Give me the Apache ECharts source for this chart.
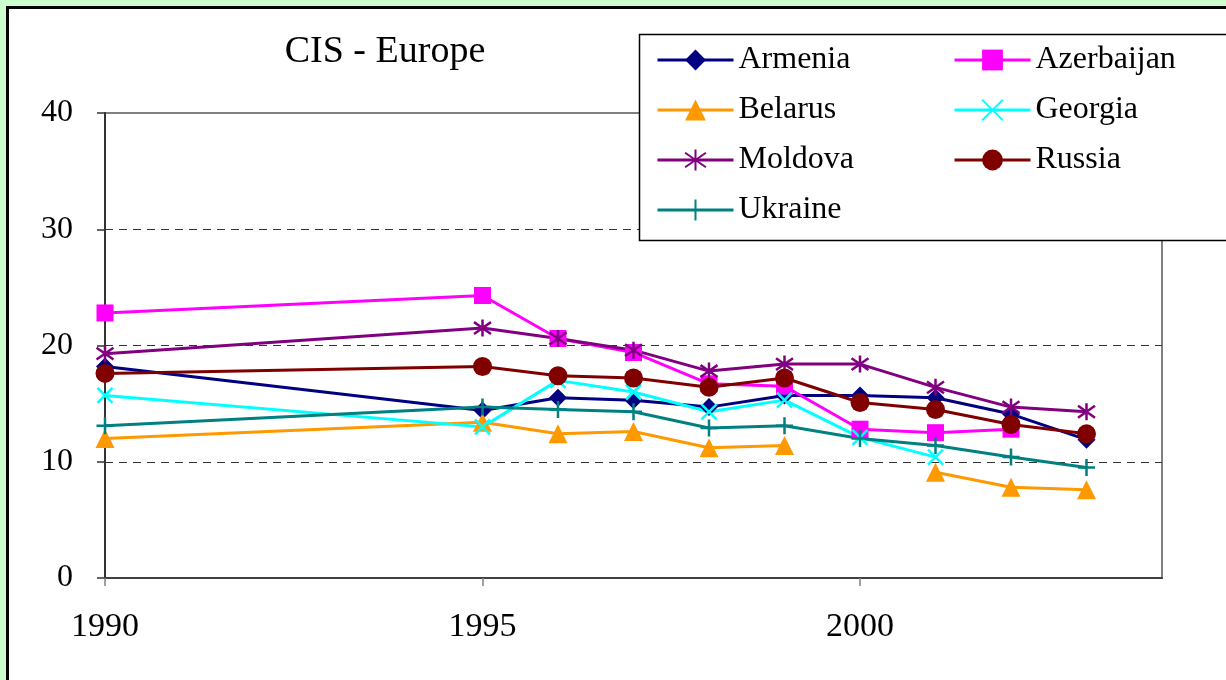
<!DOCTYPE html>
<html>
<head>
<meta charset="utf-8">
<script src="https://cdn.jsdelivr.net/npm/echarts@6/dist/echarts.min.js"></script>
<style>
  html, body { margin: 0; padding: 0; background: #ccffcc; }
  #chart { width: 1226px; height: 680px; }
</style>
</head>
<body>
<div id="chart"></div>
<script>
// Years observed on the horizontal axis
var years = [1990, 1995, 1996, 1997, 1998, 1999, 2000, 2001, 2002, 2003];
var xTicks = [1990, 1995, 2000];
var yTicks = [0, 10, 20, 30, 40];

// Values per country (null = no observation)
var armenia    = [18.2, 14.4, 15.5, 15.3, 14.7, 15.7, 15.7, 15.5, 14.1, 11.9];
var azerbaijan = [22.8, 24.3, 20.6, 19.4, 16.7, 16.5, 12.8, 12.5, 12.8, null];
var belarus    = [12.0, 13.4, 12.4, 12.6, 11.2, 11.4, null, 9.1, 7.8, 7.6];
var georgia    = [15.7, 13.0, 17.0, 16.0, 14.3, 15.3, 12.1, 10.4, null, null];
var moldova    = [19.3, 21.5, 20.6, 19.6, 17.8, 18.4, 18.4, 16.4, 14.7, 14.3];
var russia     = [17.6, 18.2, 17.4, 17.2, 16.4, 17.2, 15.1, 14.5, 13.2, 12.4];
var ukraine    = [13.1, 14.7, 14.5, 14.3, 12.9, 13.1, 12.0, 11.4, 10.4, 9.5];

var FONT = '"Liberation Serif", "Times New Roman", serif';

function pairs(vals) {
  return years.map(function (y, i) { return [y, vals[i] == null ? '-' : vals[i]]; });
}

function lineSeries(name, vals, color, symbol, size, stroked) {
  return {
    name: name,
    type: 'line',
    data: pairs(vals),
    connectNulls: false,
    symbol: symbol,
    symbolSize: size,
    showAllSymbol: true,
    lineStyle: { color: color, width: 3 },
    itemStyle: stroked
      ? { color: color, borderColor: color, borderWidth: 2.5 }
      : { color: color, borderWidth: 0 },
    emphasis: { disabled: true },
    animation: false
  };
}

var crossPath = 'path://M0,0L10,10M10,0L0,10';
var starPath = 'path://M5,0L5,10M0,1.5L10,8.5M10,1.5L0,8.5';
var plusPath = 'path://M5,0L5,10M0,5L10,5';

var legendText = { fontFamily: FONT, fontSize: 32, color: '#000', lineHeight: 32 };

function legendColumn(left, names) {
  return {
    z: 11, orient: 'vertical', left: left, top: 44, padding: 0,
    itemWidth: 76, itemHeight: 26, itemGap: 18, selectedMode: false,
    lineStyle: { width: 3 },
    data: names,
    textStyle: legendText
  };
}

var chart = echarts.init(document.getElementById('chart'), null, { renderer: 'canvas' });
chart.setOption({
  backgroundColor: '#ccffcc',
  animation: false,
  title: {
    text: 'CIS - Europe',
    left: 380,
    top: 28,
    textAlign: 'center',
    textStyle: { fontFamily: FONT, fontSize: 38, fontWeight: 'normal', color: '#000' }
  },
  graphic: [
    {
      type: 'rect', z: -10, silent: true,
      shape: { x: 7.5, y: 7.5, width: 1300, height: 720 },
      style: { fill: '#ffffff', stroke: '#000000', lineWidth: 3 }
    },
    {
      type: 'rect', z: 10, silent: true,
      shape: { x: 639.5, y: 34.5, width: 620, height: 206 },
      style: { fill: '#ffffff', stroke: '#000000', lineWidth: 1.5 }
    }
  ],
  legend: [
    legendColumn(656, ['Armenia', 'Belarus', 'Moldova', 'Ukraine']),
    legendColumn(953, ['Azerbaijan', 'Georgia', 'Russia'])
  ],
  grid: {
    left: 105, top: 113, right: 64, bottom: 102,
    show: true, backgroundColor: '#ffffff', borderColor: '#808080', borderWidth: 2
  },
  xAxis: {
    type: 'value', min: 1990, max: 2004, interval: 5,
    axisLine: { show: true, onZero: false, lineStyle: { color: '#404040', width: 2 } },
    axisTick: { show: true, length: 8, customValues: xTicks, lineStyle: { color: '#808080', width: 1.5 } },
    axisLabel: {
      customValues: xTicks, margin: 32,
      fontFamily: FONT, fontSize: 34, color: '#000',
      formatter: function (v) { return String(v); }
    },
    splitLine: { show: false }
  },
  yAxis: {
    type: 'value', min: 0, max: 40, interval: 10,
    axisLine: { show: true, lineStyle: { color: '#333333', width: 2 } },
    axisTick: { show: true, length: 8, customValues: yTicks, lineStyle: { color: '#333333', width: 1.5 } },
    axisLabel: { customValues: yTicks, margin: 32, fontFamily: FONT, fontSize: 32, color: '#000' },
    splitLine: {
      show: true,
      lineStyle: {
        color: ['rgba(0,0,0,0)', '#333333', '#333333', '#333333', 'rgba(0,0,0,0)'],
        width: 1, type: [8, 6]
      }
    }
  },
  series: [
    lineSeries('Armenia', armenia, '#000080', 'diamond', 18, false),
    lineSeries('Azerbaijan', azerbaijan, '#ff00ff', 'rect', 17, false),
    lineSeries('Belarus', belarus, '#ff9900', 'triangle', 19, false),
    lineSeries('Georgia', georgia, '#00ffff', crossPath, 15, true),
    lineSeries('Moldova', moldova, '#800080', starPath, 17, true),
    lineSeries('Russia', russia, '#800000', 'circle', 19, false),
    lineSeries('Ukraine', ukraine, '#008080', plusPath, 17, true)
  ]
});
</script>
</body>
</html>
